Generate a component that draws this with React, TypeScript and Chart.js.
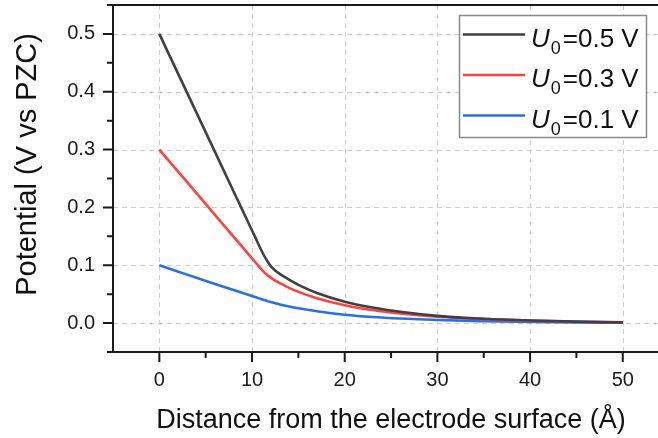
import React, { useEffect, useRef } from 'react';
import { Chart, registerables } from 'chart.js';

Chart.register(...registerables);

// ---- data ----
const distances = [0, 3, 6, 8, 9, 10, 10.5, 11, 11.5, 12, 12.5, 13, 14, 15, 17, 20, 23, 26, 30, 35, 40, 45, 50];
const potential05 = [0.5, 0.398, 0.296, 0.228, 0.194, 0.16, 0.143, 0.126, 0.111, 0.099, 0.091, 0.085, 0.075, 0.066, 0.052, 0.037, 0.027, 0.0195, 0.0125, 0.0075, 0.0045, 0.0025, 0.0012];
const potential03 = [0.3, 0.2436, 0.1872, 0.1496, 0.1308, 0.112, 0.1026, 0.0932, 0.085, 0.079, 0.0735, 0.069, 0.061, 0.054, 0.043, 0.031, 0.0225, 0.0165, 0.011, 0.0068, 0.0042, 0.0024, 0.0011];
const potential01 = [0.1, 0.0838, 0.0676, 0.0572, 0.0521, 0.0468, 0.0441, 0.0414, 0.039, 0.0365, 0.0344, 0.0323, 0.0287, 0.0256, 0.0205, 0.0145, 0.0105, 0.0078, 0.0052, 0.0033, 0.002, 0.0012, 0.0006];
const seriesValues = [potential05, potential03, potential01];
const seriesLabels = ['=0.5 V', '=0.3 V', '=0.1 V'];
const seriesColors = ['#404040', '#ff4343', '#2a6fe8'];
const legendSymbol = 'U';
const legendSubscript = '0';
const xTitle = 'Distance from the electrode surface (Å)';
const yTitle = 'Potential (V vs PZC)';
const xMajorTicks = [0, 10, 20, 30, 40, 50];
const xMinorTicks = [5, 15, 25, 35, 45];
const yMajorTicks = [0, 0.1, 0.2, 0.3, 0.4, 0.5];
const yMinorTicks = [-0.05, 0.05, 0.15, 0.25, 0.35, 0.45, 0.55];
const xMin = -5;
const xMax = 53.8;
const yMin = -0.05;
const yMax = 0.55;

const FONT = '"Liberation Sans", Arial, sans-serif';

const framePlugin = {
  id: 'frame',
  beforeDatasetsDraw(chart: any) {
    const { ctx, chartArea, scales } = chart;
    const { left, right, top, bottom } = chartArea;
    const x = scales.x;
    const y = scales.y;
    ctx.save();
    ctx.strokeStyle = '#cfcfcf';
    ctx.lineWidth = 1;
    ctx.setLineDash([5, 4]);
    for (const v of xMajorTicks) {
      const px = Math.round(x.getPixelForValue(v)) + 0.5;
      ctx.beginPath();
      ctx.moveTo(px, top);
      ctx.lineTo(px, bottom);
      ctx.stroke();
    }
    for (const v of yMajorTicks) {
      const py = Math.round(y.getPixelForValue(v)) + 0.5;
      ctx.beginPath();
      ctx.moveTo(left, py);
      ctx.lineTo(right, py);
      ctx.stroke();
    }
    ctx.restore();
  },
  afterDatasetsDraw(chart: any) {
    const { ctx, chartArea, scales } = chart;
    const { left, right, top, bottom } = chartArea;
    const x = scales.x;
    const y = scales.y;
    ctx.save();
    ctx.setLineDash([]);
    ctx.strokeStyle = '#1a1a1a';
    ctx.lineWidth = 2;
    // axes + top border
    ctx.beginPath();
    ctx.moveTo(left, top);
    ctx.lineTo(right, top);
    ctx.moveTo(left, top - 1);
    ctx.lineTo(left, bottom + 1);
    ctx.moveTo(left - 1, bottom);
    ctx.lineTo(right, bottom);
    ctx.stroke();
    // tick marks
    ctx.beginPath();
    for (const v of xMajorTicks) {
      const px = x.getPixelForValue(v);
      ctx.moveTo(px, bottom);
      ctx.lineTo(px, bottom + 10);
    }
    for (const v of xMinorTicks) {
      const px = x.getPixelForValue(v);
      ctx.moveTo(px, bottom);
      ctx.lineTo(px, bottom + 6);
    }
    for (const v of yMajorTicks) {
      const py = y.getPixelForValue(v);
      ctx.moveTo(left, py);
      ctx.lineTo(left - 10, py);
    }
    for (const v of yMinorTicks) {
      const py = y.getPixelForValue(v);
      ctx.moveTo(left, py);
      ctx.lineTo(left - 6, py);
    }
    ctx.stroke();

    // axis titles
    ctx.fillStyle = '#111';
    ctx.font = `27px ${FONT}`;
    ctx.textAlign = 'center';
    ctx.textBaseline = 'alphabetic';
    ctx.fillText(xTitle, 391, 428);
    ctx.save();
    ctx.translate(27.5, 164.5);
    ctx.rotate(-Math.PI / 2);
    ctx.font = `29px ${FONT}`;
    ctx.textBaseline = 'middle';
    ctx.fillText(yTitle, 0, 0);
    ctx.restore();

    // legend
    const bx = 459.5, by = 15.5, bw = 187, bh = 122;
    ctx.fillStyle = '#ffffff';
    ctx.fillRect(bx, by, bw, bh);
    ctx.strokeStyle = '#8a8a8a';
    ctx.lineWidth = 1.5;
    ctx.strokeRect(bx, by, bw, bh);
    chart.data.datasets.forEach((ds: any, i: number) => {
      const ly = 34.5 + i * 40.5;
      ctx.strokeStyle = ds.borderColor;
      ctx.lineWidth = 2.5;
      ctx.beginPath();
      ctx.moveTo(463, ly);
      ctx.lineTo(525, ly);
      ctx.stroke();
      const base = ly + 12;
      ctx.fillStyle = '#111';
      ctx.textAlign = 'left';
      ctx.textBaseline = 'alphabetic';
      ctx.font = `italic 26px ${FONT}`;
      ctx.fillText(legendSymbol, 531, base);
      const uw = ctx.measureText(legendSymbol).width;
      ctx.font = `18px ${FONT}`;
      ctx.fillText(legendSubscript, 532 + uw, base + 7);
      const sw = ctx.measureText(legendSubscript).width;
      ctx.font = `26px ${FONT}`;
      ctx.fillText(seriesLabels[i], 534 + uw + sw, base);
    });
    ctx.restore();
  },
};

export default function App() {
  const ref = useRef<HTMLCanvasElement | null>(null);
  useEffect(() => {
    document.body.style.margin = '0';
    const canvas = ref.current;
    if (!canvas) return;
    const chart = new Chart(canvas, {
      type: 'line',
      data: {
        datasets: seriesValues.map((vals, i) => ({
          label: 'U0' + seriesLabels[i],
          data: distances.map((d, j) => ({ x: d, y: vals[j] })),
          borderColor: seriesColors[i],
          backgroundColor: seriesColors[i],
          borderWidth: 2.6,
          pointRadius: 0,
          cubicInterpolationMode: 'monotone' as const,
          fill: false,
        })),
      },
      options: {
        animation: false,
        responsive: false,
        events: [],
        layout: { padding: { top: 5, left: 0, right: 0, bottom: 0 } },
        plugins: {
          legend: { display: false },
          tooltip: { enabled: false },
          title: { display: false },
        },
        scales: {
          x: {
            type: 'linear',
            min: xMin,
            max: xMax,
            grid: { display: false, drawTicks: false },
            border: { display: false },
            afterBuildTicks: (s: any) => {
              s.ticks = xMajorTicks.map((v) => ({ value: v }));
            },
            afterFit: (s: any) => {
              s.height = 86;
              s.paddingLeft = 0;
              s.paddingRight = 0;
            },
            ticks: {
              padding: 16,
              maxRotation: 0,
              autoSkip: false,
              color: '#1a1a1a',
              font: { family: FONT, size: 20 },
              callback: (v: any) => String(v),
            },
          },
          y: {
            type: 'linear',
            min: yMin,
            max: yMax,
            grid: { display: false, drawTicks: false },
            border: { display: false },
            afterBuildTicks: (s: any) => {
              s.ticks = yMajorTicks.map((v) => ({ value: v }));
            },
            afterFit: (s: any) => {
              s.width = 113;
              s.paddingTop = 0;
              s.paddingBottom = 0;
            },
            ticks: {
              padding: 18,
              autoSkip: false,
              color: '#1a1a1a',
              font: { family: FONT, size: 20 },
              callback: (v: any) => Number(v).toFixed(1),
            },
          },
        },
      },
      plugins: [framePlugin],
    } as any);
    return () => chart.destroy();
  }, []);
  return <canvas ref={ref} width={658} height={438} style={{ display: 'block' }} />;
}
